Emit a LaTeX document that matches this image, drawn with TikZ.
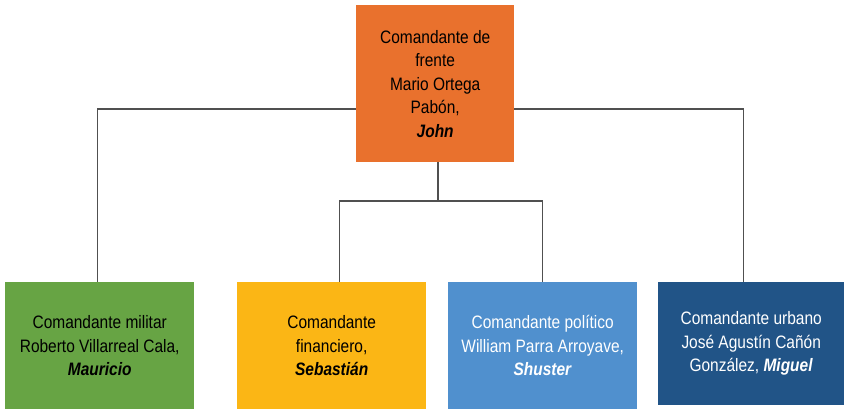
\documentclass[tikz,border=0pt]{standalone}
\usepackage{fontspec}
\setmainfont{Liberation Sans}[FakeStretch=0.86]
\usepackage{tikz}
\usetikzlibrary{positioning,backgrounds}
\usepackage{xcolor}
\definecolor{naranja}{RGB}{233,113,45}
\definecolor{verde}{RGB}{103,164,68}
\definecolor{amarillo}{RGB}{251,182,21}
\definecolor{celeste}{RGB}{80,144,206}
\definecolor{azul}{RGB}{33,84,135}
\definecolor{linea}{RGB}{80,80,80}

\begin{document}
\begin{tikzpicture}[x=1pt,y=-1pt,
  every node/.style={font=\fontsize{18}{23.5}\selectfont},
  caja/.style={inner sep=0pt,align=center,anchor=north west},
  conector/.style={draw=linea,line width=1.1pt}]
  \useasboundingbox (0,0) rectangle (844,409);
  % jefe
  \node[caja,fill=naranja,minimum width=158pt,minimum height=157pt] (jefe) at (356,5)
    {Comandante de\\frente\\Mario Ortega\\Pabón,\\\textbf{\textit{John}}};
  % comandantes
  \node[caja,fill=verde,minimum width=189pt,minimum height=127pt] (mil) at (5,282)
    {Comandante militar\\Roberto Villarreal Cala,\\\textbf{\textit{Mauricio}}};
  \node[caja,fill=amarillo,minimum width=189pt,minimum height=127pt] (fin) at (237,282)
    {Comandante\\financiero,\\\textbf{\textit{Sebastián}}};
  \node[caja,fill=celeste,minimum width=189pt,minimum height=127pt,text=white] (pol) at (448,282)
    {Comandante político\\William Parra Arroyave,\\\textbf{\textit{Shuster}}};
  \node[caja,fill=azul,minimum width=186pt,minimum height=123pt,text=white] (urb) at (658,282)
    {Comandante urbano\\José Agustín Cañón\\González, \textbf{\textit{Miguel}}};
  % lineas
  \coordinate (barra) at (438,109);
  \coordinate (rama) at (438,201);
  \begin{pgfonlayer}{background}
    \draw[conector] ([xshift=-2.5pt]mil.north) |- (barra) -| ([xshift=-8pt]urb.north);
    \draw[conector] (jefe.south -| rama) -- (rama);
    \draw[conector] ([xshift=7.5pt]fin.north) |- (rama) -| (pol.north);
  \end{pgfonlayer}
\end{tikzpicture}
\end{document}
